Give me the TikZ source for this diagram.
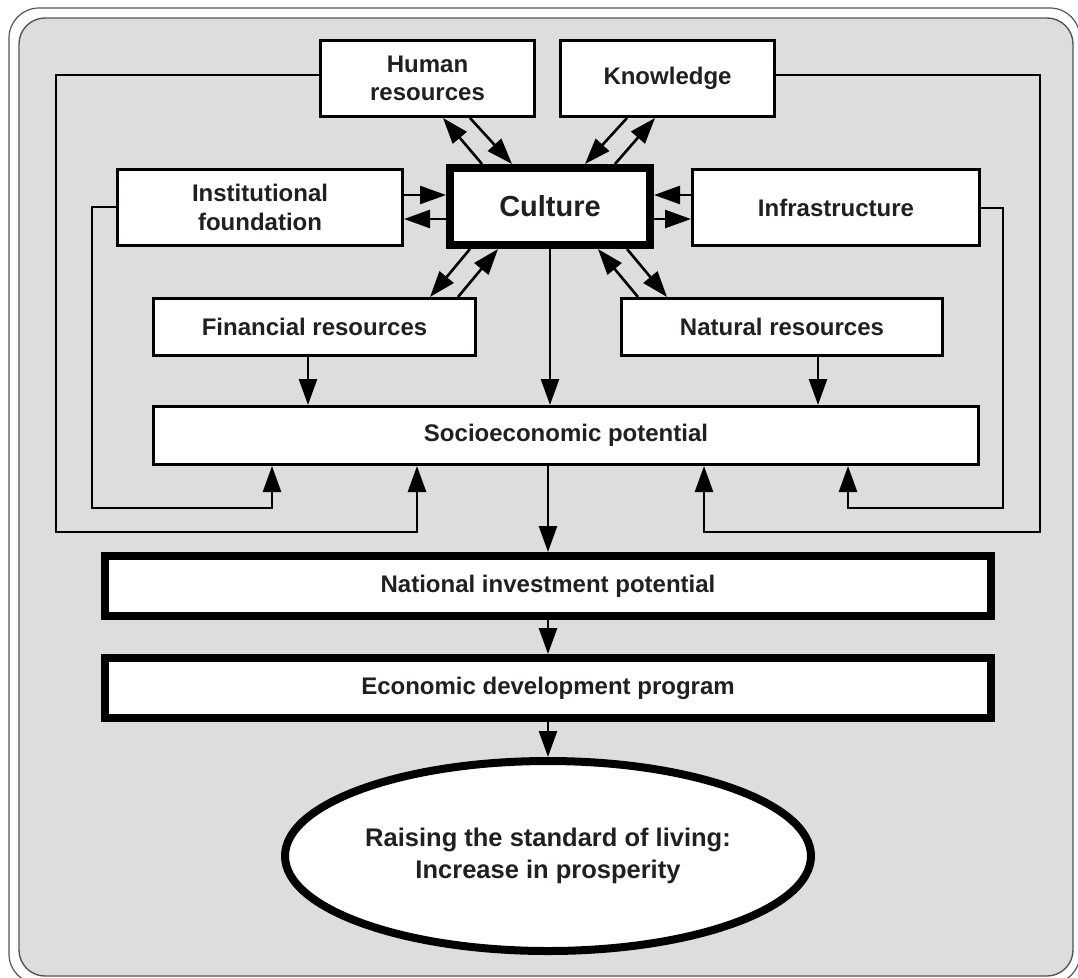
\documentclass[tikz,border=0pt]{standalone}
\usepackage{fontspec}
\setmainfont{Liberation Sans}
\usetikzlibrary{arrows.meta,shapes.geometric}
\definecolor{bg}{HTML}{DCDDDF}
\definecolor{txt}{HTML}{231F20}
\definecolor{framec}{HTML}{555555}
\begin{document}
\begin{tikzpicture}[x=1pt,y=-1pt,
  box/.style={draw=black,line width=3pt,fill=white,inner sep=0pt,align=center,text=txt,
    font=\fontsize{24}{28.5}\selectfont\bfseries},
  thickbox/.style={box,line width=8pt},
  con/.style={line width=2.6pt,draw=black},
  arr/.style={con,-{Triangle[length=26pt,width=18pt]}},
]
\useasboundingbox (0,0) rectangle (1078,977);
% frame
\draw[draw=framec,line width=1.2pt,rounded corners=30pt] (9,8) rectangle (1080,984);
\draw[draw=framec,line width=1.4pt,fill=bg,rounded corners=26pt] (19,18) rectangle (1073,976);

% nodes
\node[box,minimum width=214pt,minimum height=76pt] (hr) at (427.5,78.5) {Human\\resources};
\node[box,minimum width=214pt,minimum height=76pt] (kn) at (667.5,78.5) {Knowledge};
\node[box,minimum width=285pt,minimum height=76pt] (inst) at (260,207.5) {Institutional\\foundation};
\node[thickbox,minimum width=200pt,minimum height=77pt,font=\fontsize{29}{34}\selectfont\bfseries] (cult) at (550,206.5) {Culture};
\node[box,minimum width=287pt,minimum height=76pt] (infra) at (836,207.5) {Infrastructure};
\node[box,minimum width=322pt,minimum height=57pt] (fin) at (314.5,327) {Financial resources};
\node[box,minimum width=321pt,minimum height=57pt] (nat) at (782,327) {Natural resources};
\node[box,minimum width=825pt,minimum height=58pt] (socio) at (566,435.5) {Socioeconomic potential};
\node[thickbox,minimum width=886pt,minimum height=60pt] (nip) at (548,586) {National investment potential};
\node[thickbox,minimum width=886pt,minimum height=60pt] (edp) at (548,688) {Economic development program};
\node[ellipse,draw=black,line width=8pt,fill=white,minimum width=526pt,minimum height=190pt,
  inner sep=0pt,align=center,text=txt,font=\fontsize{25.5}{32}\selectfont\bfseries] (goal) at (548,856)
  {Raising the standard of living:\\Increase in prosperity};

% feedback loops
\draw[arr] (hr.west |- 0,75) -- (56,75) |- (417,532) -- (socio.south -| 417,0);
\draw[arr] (inst.west |- 0,207) -- (92,207) |- (272,508) -- (socio.south -| 272,0);
\draw[arr] (infra.east |- 0,208) -- (1003,208) |- (848,508) -- (socio.south -| 848,0);
\draw[arr] (kn.east |- 0,75) -- (1040,75) |- (704,532) -- (socio.south -| 704,0);

% culture exchanges
\draw[arr] (cult.north -| 482,0) -- (hr.south -| 443,0);
\draw[arr] (hr.south -| 470,0) -- (cult.north -| 512,0);
\draw[arr] (kn.south -| 627,0) -- (cult.north -| 585,0);
\draw[arr] (cult.north -| 615,0) -- (kn.south -| 655,0);
\draw[arr] (inst.east |- 0,195) -- (cult.west |- 0,195);
\draw[arr] (cult.west |- 0,219) -- (inst.east |- 0,219);
\draw[arr] (infra.west |- 0,195) -- (cult.east |- 0,195);
\draw[arr] (cult.east |- 0,219) -- (infra.west |- 0,219);
\draw[arr] (cult.south -| 470,0) -- (fin.north -| 430,0);
\draw[arr] (fin.north -| 458,0) -- (cult.south -| 498,0);
\draw[arr] (nat.north -| 638,0) -- (cult.south -| 598,0);
\draw[arr] (cult.south -| 627,0) -- (nat.north -| 667,0);

% downward flow
\draw[arr] (cult.south) -- (cult.south |- socio.north);
\draw[arr] (fin.south -| 308,0) -- (socio.north -| 308,0);
\draw[arr] (nat.south -| 818,0) -- (socio.north -| 818,0);
\draw[arr] (nip.north |- socio.south) -- (nip.north);
\draw[arr] (nip.south) -- (edp.north);
\draw[arr] (edp.south) -- (goal.north);
\end{tikzpicture}
\end{document}
